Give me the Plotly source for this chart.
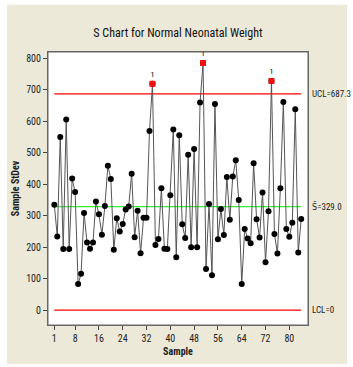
import plotly.graph_objects as go

# Subgroup standard deviations of neonatal weight, samples 1..84
samples = list(range(1, 85))
stdev = [335, 234, 550, 194, 606, 194, 418, 375, 83, 116,
         309, 215, 195, 215, 345, 305, 240, 331, 459, 417,
         192, 292, 250, 274, 320, 329, 433, 232, 316, 181,
         294, 294, 569, 719, 207, 226, 387, 195, 194, 365,
         574, 168, 556, 273, 229, 494, 200, 512, 200, 660,
         785, 131, 337, 111, 655, 225, 321, 239, 423, 287,
         425, 476, 350, 83, 258, 228, 213, 467, 289, 231,
         374, 152, 314, 728, 242, 180, 387, 661, 258, 233,
         278, 638, 183, 290]

ucl = 687.3
center = 329.0
lcl = 0.0

x_ticks = [1, 8, 16, 24, 32, 40, 48, 56, 64, 72, 80]
y_ticks = [0, 100, 200, 300, 400, 500, 600, 700, 800]

# Points beyond the upper control limit (test 1)
out_x = [s for s, v in zip(samples, stdev) if v > ucl]
out_y = [v for v in stdev if v > ucl]

font_main = "Roboto Condensed, Liberation Sans Narrow, DejaVu Sans Condensed, sans-serif"

fig = go.Figure()

# Control limits and center line
fig.add_trace(go.Scatter(x=[samples[0], samples[-1]], y=[ucl, ucl], mode="lines",
                         line=dict(color="#ff0000", width=1.2), hoverinfo="skip"))
fig.add_trace(go.Scatter(x=[samples[0], samples[-1]], y=[lcl, lcl], mode="lines",
                         line=dict(color="#ff0000", width=1.2), hoverinfo="skip"))
fig.add_trace(go.Scatter(x=[samples[0], samples[-1]], y=[center, center], mode="lines",
                         line=dict(color="#33ee33", width=1.2), hoverinfo="skip"))

# StDev series
fig.add_trace(go.Scatter(x=samples, y=stdev, mode="lines+markers",
                         line=dict(color="#555555", width=1),
                         marker=dict(color="black", size=6, symbol="circle")))

# Out-of-control points
fig.add_trace(go.Scatter(x=out_x, y=out_y, mode="markers+text",
                         marker=dict(color="#ee1111", size=6, symbol="square"),
                         text=["1"] * len(out_x), textposition="top center",
                         textfont=dict(size=8, color="black", family=font_main)))

fig.update_layout(
    width=353, height=367,
    margin=dict(l=48, r=45, t=52, b=42),
    paper_bgcolor="white",
    plot_bgcolor="white",
    showlegend=False,
    font=dict(family=font_main, size=10, color="#222222"),
    title=dict(text="S Chart for Normal Neonatal Weight", x=0.5, xref="paper",
               xanchor="center", y=1 - 33 / 367, yanchor="middle",
               font=dict(size=12, color="#111111", family=font_main)),
    shapes=[
        dict(type="rect", xref="paper", yref="paper", x0=-0.158, x1=1.15,
             y0=-0.143, y1=1.173, fillcolor="#ece9d8", line=dict(width=0),
             layer="below"),
        dict(type="rect", xref="paper", yref="paper", x0=0, x1=1, y0=0, y1=1,
             fillcolor="white", line=dict(color="#666666", width=1),
             layer="below"),
    ],
    annotations=[
        dict(x=1, xref="paper", y=ucl, yref="y", text="UCL=687.3", showarrow=False,
             xanchor="left", xshift=2, font=dict(size=9, family=font_main)),
        dict(x=1, xref="paper", y=center, yref="y", text="S\u0304=329.0", showarrow=False,
             xanchor="left", xshift=2, font=dict(size=9, family=font_main)),
        dict(x=1, xref="paper", y=lcl, yref="y", text="LCL=0", showarrow=False,
             xanchor="left", xshift=2, font=dict(size=9, family=font_main)),
    ],
)

fig.update_xaxes(range=[-1.12, 86.28], tickvals=x_ticks, ticks="outside", ticklen=4,
                 tickcolor="#444444", showgrid=False, zeroline=False, showline=True,
                 linecolor="#666666", mirror=True,
                 tickfont=dict(size=10, family=font_main),
                 title=dict(text="<b>Sample</b>", font=dict(size=10, family=font_main),
                            standoff=4))
fig.update_yaxes(range=[-47, 820], tickvals=y_ticks, ticks="outside", ticklen=4,
                 tickcolor="#444444", showgrid=False, zeroline=False, showline=True,
                 linecolor="#666666", mirror=True,
                 tickfont=dict(size=10, family=font_main),
                 title=dict(text="<b>Sample StDev</b>", font=dict(size=10, family=font_main),
                            standoff=4))

fig.write_html("out.html")
